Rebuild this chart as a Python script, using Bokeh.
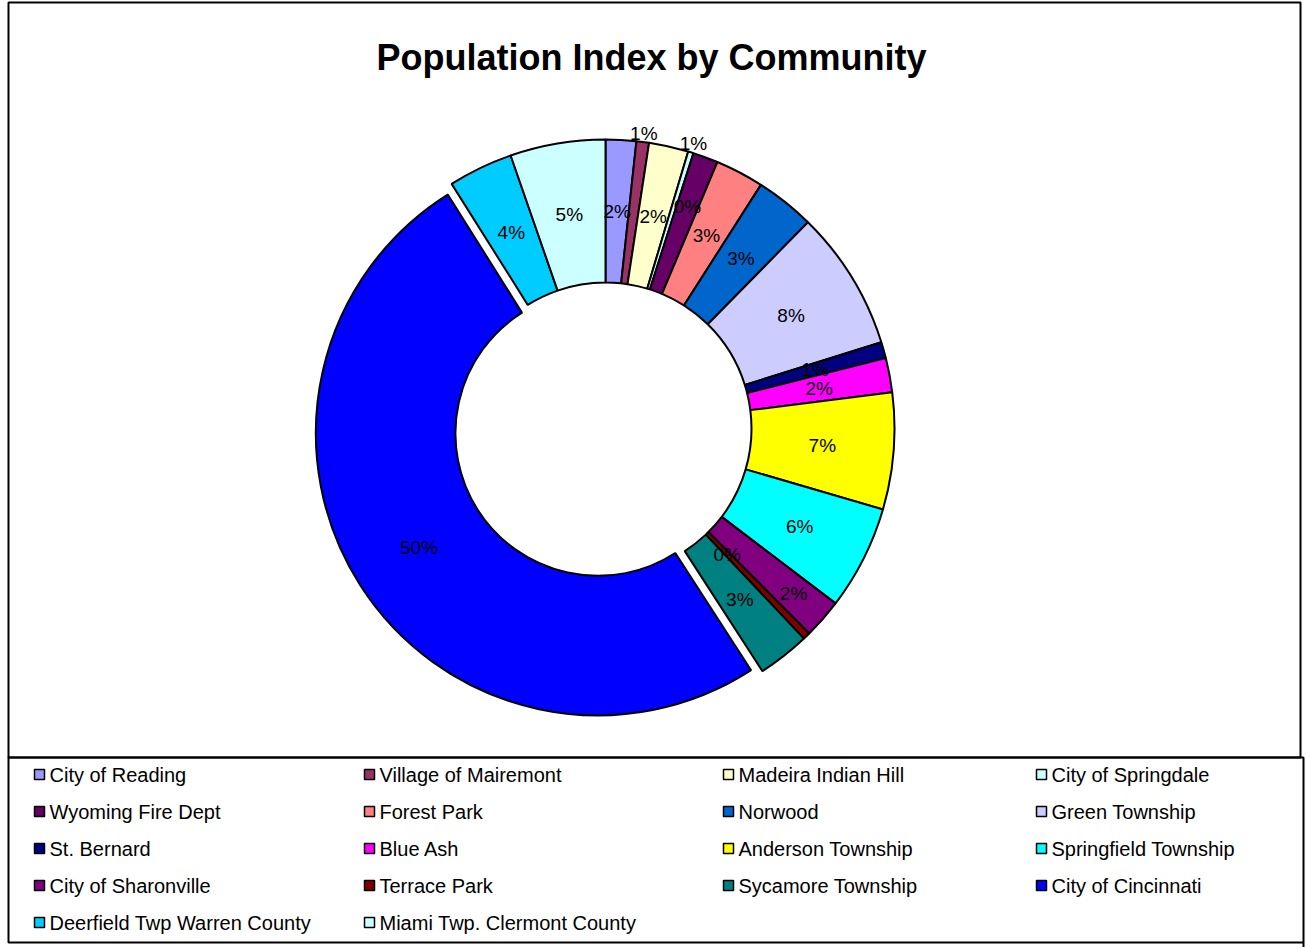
import math
from bokeh.plotting import figure
from bokeh.models import Range1d, ColumnDataSource
from bokeh.embed import file_html
from bokeh.resources import INLINE
from bokeh.core.properties import value

# ---------------- data ----------------
communities = [
    "City of Reading", "Village of Mairemont", "Madeira Indian Hill", "City of Springdale",
    "Wyoming Fire Dept", "Forest Park", "Norwood", "Green Township",
    "St. Bernard", "Blue Ash", "Anderson Township", "Springfield Township",
    "City of Sharonville", "Terrace Park", "Sycamore Township", "City of Cincinnati",
    "Deerfield Twp Warren County", "Miami Twp. Clermont County",
]
index_values = [1.7, 0.7, 2.2, 0.3, 1.4, 2.7, 3.3, 7.8, 0.9, 1.9, 6.5, 5.8,
                2.2, 0.4, 2.9, 50.0, 3.6, 5.3]
pct_labels = ["2%", "1%", "2%", "1%", "0%", "3%", "3%", "8%", "1%", "2%", "7%", "6%",
              "2%", "0%", "3%", "50%", "4%", "5%"]
colors = ["#9999FF", "#993366", "#FFFFCC", "#CCFFFF", "#660066", "#FF8080", "#0066CC",
          "#CCCCFF", "#000080", "#FF00FF", "#FFFF00", "#00FFFF", "#800080", "#800000",
          "#008080", "#0000FF", "#00CCFF", "#CCFFFF"]
exploded = ["City of Cincinnati"]
title_text = "Population Index by Community"

# ---------------- layout / style ----------------
W, H = 1306, 947
CX, CY = 605, H - 428          # donut centre (bokeh coords)
R_OUT, R_IN = 289, 146
EXPLODE = 9
EXPLODE_SCALE = 0.976
FONT = "Liberation Sans"
label_radius = {"Village of Mairemont": 297, "City of Springdale": 298,
                "Wyoming Fire Dept": 237, "City of Sharonville": 250, "Terrace Park": 175}

p = figure(width=W, height=H, x_range=Range1d(0, W), y_range=Range1d(0, H),
           output_backend="svg", toolbar_location=None, min_border=0,
           x_axis_location=None, y_axis_location=None)
p.grid.visible = False
p.outline_line_color = None
p.background_fill_color = "white"
p.border_fill_color = "white"

# frames
p.quad(left=[8], right=[1300], top=[H - 2], bottom=[H - 757],
       fill_color=None, line_color="black", line_width=2)
p.quad(left=[8], right=[1303], top=[H - 757], bottom=[H - 942],
       fill_color=None, line_color="black", line_width=2)
p.segment(x0=[1303], y0=[H - 942], x1=[1303], y1=[0], line_color="black", line_width=2)

# wedges
total = sum(index_values)
xs, ys, starts, ends, lx, ly, rin, rout = [], [], [], [], [], [], [], []
cum = 0.0
for name, v in zip(communities, index_values):
    t0 = cum / total * 360.0
    cum += v
    t1 = cum / total * 360.0
    mid = math.radians((t0 + t1) / 2)
    ox = oy = 0.0
    sc = 1.0
    if name in exploded:
        ox = EXPLODE * math.sin(mid)
        oy = EXPLODE * math.cos(mid)
        sc = EXPLODE_SCALE
    xs.append(CX + ox)
    ys.append(CY + oy)
    rin.append(R_IN * sc)
    rout.append(R_OUT * sc)
    starts.append(math.radians(90 - t0))
    ends.append(math.radians(90 - t1))
    rl = label_radius.get(name, (R_OUT + R_IN) / 2 * sc)
    lx.append(CX + ox + rl * math.sin(mid))
    ly.append(CY + oy + rl * math.cos(mid))

src = ColumnDataSource(dict(x=xs, y=ys, start=starts, end=ends, color=colors,
                            lx=lx, ly=ly, lab=pct_labels, name=communities,
                            rin=rin, rout=rout))
p.annular_wedge(x="x", y="y", inner_radius="rin", outer_radius="rout",
                start_angle="start", end_angle="end", direction="clock",
                fill_color="color", line_color="black", line_width=2, source=src)
p.text(x="lx", y="ly", text="lab", source=src, text_align="center",
       text_baseline="middle", text_font=value(FONT), text_font_size=value("19px"),
       text_color="black")

# title
p.text(x=[651], y=[H - 57], text=[title_text], text_align="center", text_baseline="middle",
       text_font=value(FONT), text_font_size=value("36px"), text_font_style="bold",
       text_color="black")

# legend
col_x = [39, 369, 728, 1041]
row_y = [774, 811, 848, 885, 922]
sq_x, sq_y, tx, ty = [], [], [], []
for i, name in enumerate(communities):
    c, r = i % 4, i // 4
    sq_x.append(col_x[c])
    sq_y.append(H - row_y[r])
    tx.append(col_x[c] + 10)
    ty.append(H - row_y[r])
leg = ColumnDataSource(dict(x=sq_x, y=sq_y, tx=tx, ty=ty, color=colors, name=communities))
p.rect(x="x", y="y", width=10, height=10, fill_color="color", line_color="black",
       line_width=1.5, source=leg)
p.text(x="tx", y="ty", text="name", source=leg, text_align="left", text_baseline="middle",
       text_font=value(FONT), text_font_size=value("20px"), text_color="black")

open("out.html", "w").write(file_html(p, INLINE))
